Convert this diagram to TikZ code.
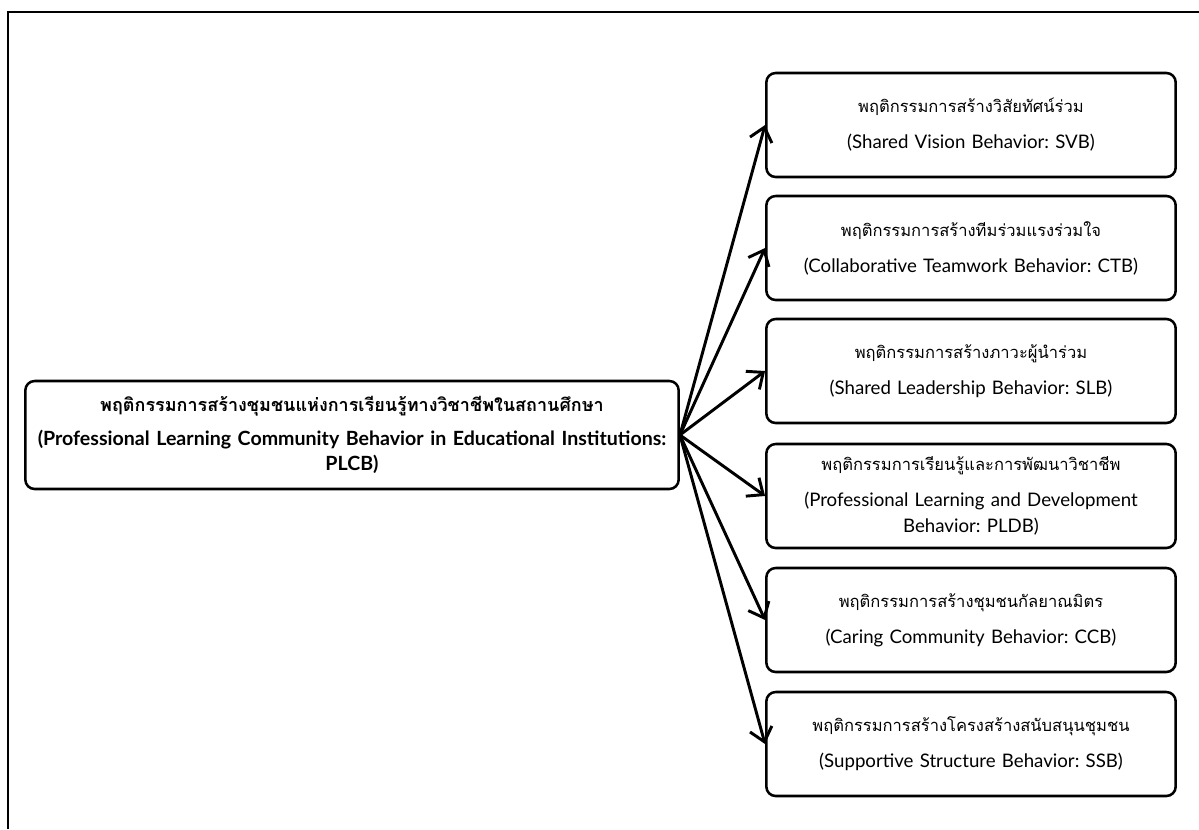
\documentclass[tikz,border=0pt]{standalone}
\usepackage{fontspec}
\setmainfont{Lato}
\newfontfamily\thai[Script=Thai]{Loma}
\newcommand\thaitxt[1]{{\thai #1}}
\frenchspacing
\usetikzlibrary{arrows.meta}
\tikzset{
  mainbox/.style={draw,line width=1.9pt,rounded corners=7pt,minimum width=490pt,minimum height=81pt,
    inner xsep=0pt,text width=490pt,align=center,font=\bfseries\fontsize{14.7}{19}\selectfont},
  subbox/.style={draw,line width=1.9pt,rounded corners=7pt,minimum width=307pt,minimum height=78pt,
    text width=300pt,align=center,font=\fontsize{14}{20}\selectfont},
  arr/.style={line width=2.2pt,-{Straight Barb[length=10pt,width=17pt]}}
}
\begin{document}
\begin{tikzpicture}[x=0.75pt,y=-0.75pt]
\useasboundingbox (0,0) rectangle (1199,829);
%outer frame
  \draw[line width=2pt] (8,829) -- (8,12) -- (1199,12);
%main behavior
  \node[mainbox] (plcb) at (352,435) {{\fontsize{13.5}{19}\selectfont\thaitxt{พฤติกรรมการสร้างชุมชนแห่งการเรียนรู้ทางวิชาชีพในสถานศึกษา}}\\[6pt]
    (Professional Learning Community Behavior in Educational Institutions:\\ PLCB)};
%component behaviors
  \node[subbox] (svb) at (971,125) {{\fontsize{12.4}{20}\selectfont\thaitxt{พฤติกรรมการสร้างวิสัยทัศน์ร่วม}}\\[7pt]
    (Shared Vision Behavior: SVB)};
  \node[subbox] (ctb) at (971,248) {{\fontsize{12.4}{20}\selectfont\thaitxt{พฤติกรรมการสร้างทีมร่วมแรงร่วมใจ}}\\[7pt]
    (Collaborative Teamwork Behavior: CTB)};
  \node[subbox] (slb) at (971,371) {{\fontsize{12.4}{20}\selectfont\thaitxt{พฤติกรรมการสร้างภาวะผู้นำร่วม}}\\[7pt]
    (Shared Leadership Behavior: SLB)};
  \node[subbox] (pldb) at (971,496) {{\fontsize{12.4}{20}\selectfont\thaitxt{พฤติกรรมการเรียนรู้และการพัฒนาวิชาชีพ}}\\[7pt]
    (Professional Learning and Development\\ Behavior: PLDB)};
  \node[subbox] (ccb) at (971,620) {{\fontsize{12.4}{20}\selectfont\thaitxt{พฤติกรรมการสร้างชุมชนกัลยาณมิตร}}\\[7pt]
    (Caring Community Behavior: CCB)};
  \node[subbox] (ssb) at (971,744) {{\fontsize{12.4}{20}\selectfont\thaitxt{พฤติกรรมการสร้างโครงสร้างสนับสนุนชุมชน}}\\[7pt]
    (Supportive Structure Behavior: SSB)};
%arrows
  \foreach \b in {svb,ctb,slb,pldb,ccb,ssb}
    \draw[arr] (plcb.east) -- (\b.west);
\end{tikzpicture}
\end{document}
